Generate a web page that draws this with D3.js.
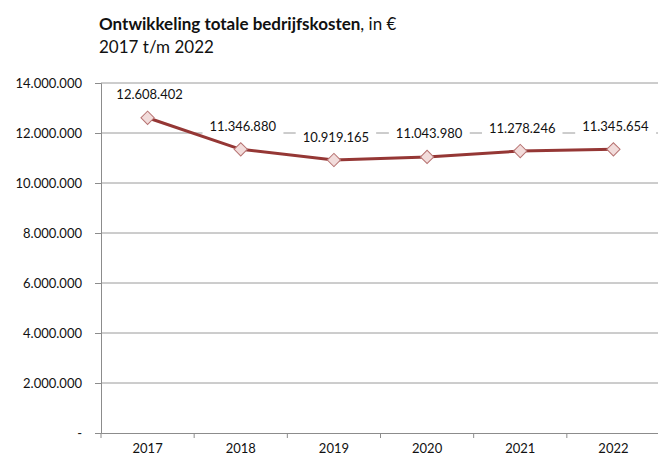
<!DOCTYPE html>
<html>
<head>
<meta charset="utf-8">
<script src="https://cdn.jsdelivr.net/npm/d3@7"></script>
<style>
  html, body { margin: 0; padding: 0; background: #fff; }
  svg { display: block; }
  text { font-family: Lato, "Open Sans", sans-serif; fill: #111; }
</style>
</head>
<body>
<svg id="chart" width="658" height="457"></svg>
<script>
const years = ["2017", "2018", "2019", "2020", "2021", "2022"];
const costs = [12608402, 11346880, 10919165, 11043980, 11278246, 11345654];
const yTicks = [0, 2000000, 4000000, 6000000, 8000000, 10000000, 12000000, 14000000];
const titleBold = "Ontwikkeling totale bedrijfskosten";
const titleRest = ", in €";
const subtitle = "2017 t/m 2022";

const nl = d3.formatLocale({ decimal: ",", thousands: ".", grouping: [3], currency: ["€", ""] });
const fmt = nl.format(",.0f");
const fmtTick = v => v === 0 ? "-" : fmt(v);

const svg = d3.select("#chart");
const W = 658, H = 457;
const mLeft = 101, mRight = 660, mTop = 83, mBottom = 433;

const x = d3.scaleBand().domain(years).range([mLeft, mRight]).padding(0);
const y = d3.scaleLinear().domain([0, 14000000]).range([mBottom, mTop]);

// title
const t = svg.append("text").attr("x", 99).attr("y", 30).style("font-size", "17px");
t.append("tspan").style("font-weight", "bold").text(titleBold);
t.append("tspan").text(titleRest);
svg.append("text").attr("x", 99).attr("y", 53).style("font-size", "17px").text(subtitle);

// gridlines
svg.append("g").selectAll("line").data(yTicks.filter(d => d > 0)).join("line")
  .attr("x1", mLeft).attr("x2", W)
  .attr("y1", d => y(d)).attr("y2", d => y(d))
  .attr("stroke", "#9a9a9a").attr("stroke-width", 1);

// y axis
const yAxis = svg.append("g").attr("transform", `translate(${mLeft},0)`)
  .call(d3.axisLeft(y).tickValues(yTicks).tickFormat(fmtTick).tickSize(6).tickPadding(13));
yAxis.select(".domain").attr("stroke", "#8c8c8c");
yAxis.selectAll(".tick line").attr("stroke", "#8c8c8c");
yAxis.selectAll(".tick text").style("font-size", "13px").style("font-family", "Lato, sans-serif").attr("fill", "#111");

// x axis
const xAxis = svg.append("g").attr("transform", `translate(0,${mBottom})`)
  .call(d3.axisBottom(x).tickSize(0).tickPadding(11));
xAxis.select(".domain").attr("stroke", "#8c8c8c");
xAxis.selectAll(".tick text").style("font-size", "13px").style("font-family", "Lato, sans-serif").attr("fill", "#111");
// category separator ticks
svg.append("g").selectAll("line").data(years.concat(["end"])).join("line")
  .attr("x1", (d, i) => mLeft + i * x.bandwidth()).attr("x2", (d, i) => mLeft + i * x.bandwidth())
  .attr("y1", mBottom).attr("y2", mBottom + 5)
  .attr("stroke", "#8c8c8c");

// data labels (white boxes)
const cx = d => x(d) + x.bandwidth() / 2;
const labels = svg.append("g");
years.forEach((yr, i) => {
  const g = labels.append("g").attr("transform", `translate(${cx(yr) + 2},${y(costs[i]) - 23})`);
  const tx = g.append("text").attr("text-anchor", "middle").attr("dy", "0.35em")
    .style("font-size", "13px").text(fmt(costs[i]));
  const bb = tx.node().getBBox();
  g.insert("rect", "text").attr("x", bb.x - 7).attr("y", bb.y - 2)
    .attr("width", bb.width + 14).attr("height", bb.height + 4).attr("fill", "#fff");
});

// line
const line = d3.line().x((d, i) => cx(years[i])).y(d => y(d));
svg.append("path").datum(costs).attr("d", line)
  .attr("fill", "none").attr("stroke", "#953735").attr("stroke-width", 3).attr("stroke-linejoin", "round");

// markers
const sym = d3.symbol(d3.symbolSquare, 88);
svg.append("g").selectAll("path").data(costs).join("path")
  .attr("d", sym)
  .attr("transform", (d, i) => `translate(${cx(years[i])},${y(d)}) rotate(45)`)
  .attr("fill", "#f2dcdb").attr("stroke", "#b77372").attr("stroke-width", 1);
</script>
</body>
</html>
